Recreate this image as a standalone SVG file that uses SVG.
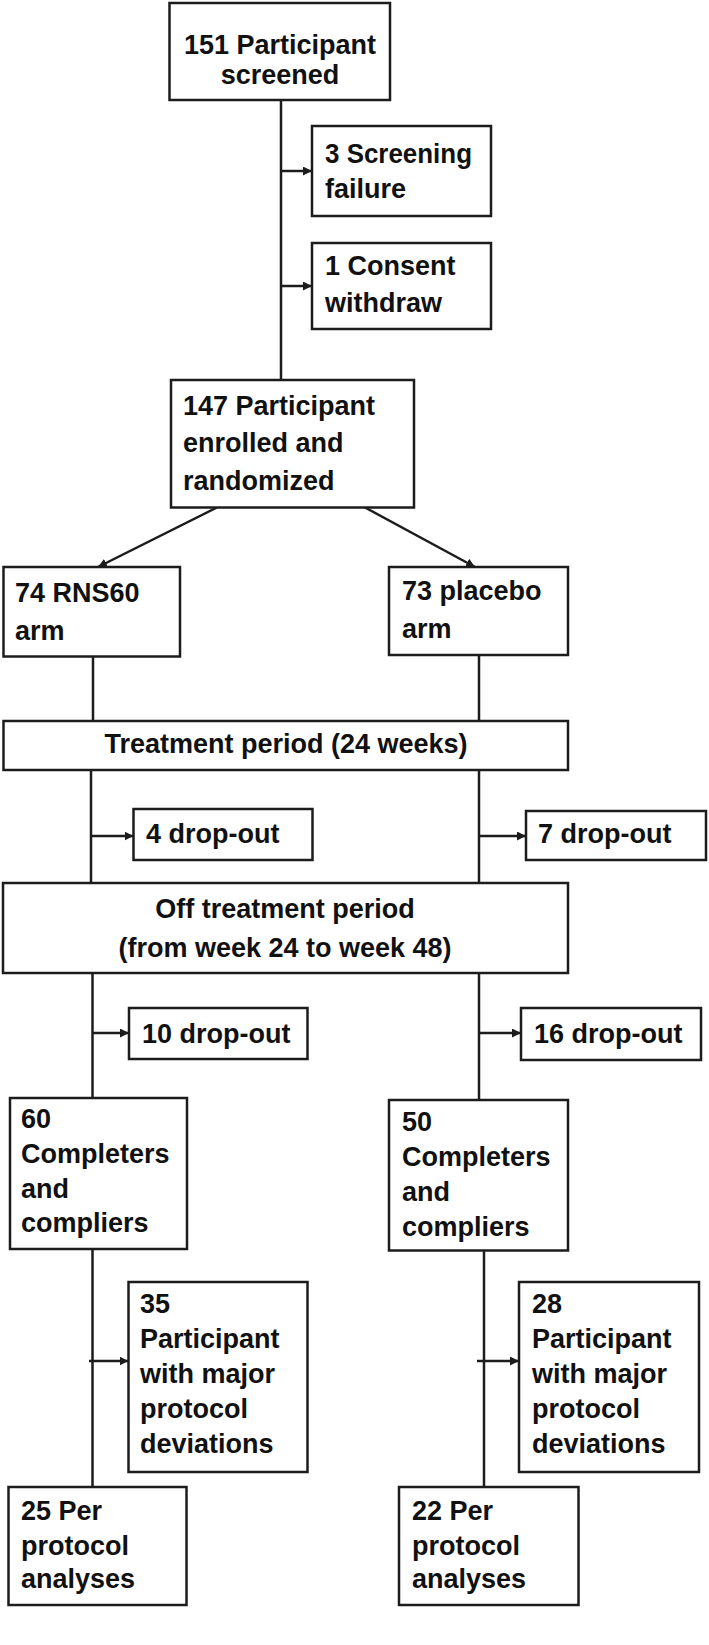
<svg xmlns="http://www.w3.org/2000/svg" width="709" height="1645" viewBox="0 0 709 1645">
  <style>
    .box { fill: #ffffff; stroke: #1c1c1c; stroke-width: 2.5; }
    .t { font-family: "Liberation Sans", Arial, sans-serif; font-weight: bold; font-size: 27px; fill: #111111; }
    .c { text-anchor: middle; }
    .ln { stroke: #1c1c1c; stroke-width: 2.5; fill: none; }
    .ar { stroke: #1c1c1c; stroke-width: 2.5; fill: none; marker-end: url(#ah); }
  </style>
  <defs>
    <marker id="ah" markerWidth="10" markerHeight="10" refX="9" refY="4.5" orient="auto" markerUnits="userSpaceOnUse">
      <path d="M0,0 L9,4.5 L0,9 z" fill="#1c1c1c"/>
    </marker>
  </defs>
  <rect x="0" y="0" width="709" height="1645" fill="#ffffff"/>

  <g id="connectors">
    <line class="ln" x1="281" y1="100" x2="281" y2="380"/>
    <line class="ar" x1="281" y1="171" x2="312" y2="171"/>
    <line class="ar" x1="281" y1="286" x2="312" y2="286"/>
    <line class="ar" x1="217" y1="507.5" x2="98" y2="567"/>
    <line class="ar" x1="365" y1="507.5" x2="475" y2="567"/>
    <line class="ln" x1="93" y1="656.5" x2="93" y2="721"/>
    <line class="ln" x1="479" y1="655" x2="479" y2="721"/>
    <line class="ln" x1="91" y1="770" x2="91" y2="883"/>
    <line class="ar" x1="91" y1="836" x2="133.5" y2="836"/>
    <line class="ln" x1="479" y1="770" x2="479" y2="883"/>
    <line class="ar" x1="479" y1="836" x2="526" y2="836"/>
    <line class="ln" x1="92.5" y1="973" x2="92.5" y2="1098"/>
    <line class="ar" x1="92.5" y1="1033" x2="129" y2="1033"/>
    <line class="ln" x1="479" y1="973" x2="479" y2="1100"/>
    <line class="ar" x1="479" y1="1033" x2="521" y2="1033"/>
    <line class="ln" x1="92.5" y1="1249" x2="92.5" y2="1487"/>
    <line class="ar" x1="89" y1="1361" x2="128.5" y2="1361"/>
    <line class="ln" x1="484" y1="1250.5" x2="484" y2="1487"/>
    <line class="ar" x1="477" y1="1361" x2="519" y2="1361"/>
  </g>

  <g id="n151">
    <rect class="box" x="169.5" y="3" width="220.5" height="97"/>
    <text class="t c" x="280" y="54">151 Participant</text>
    <text class="t c" x="280" y="84">screened</text>
  </g>
  <g id="nScreen">
    <rect class="box" x="312" y="126" width="179" height="90"/>
    <text class="t" x="325" y="163" textLength="147" lengthAdjust="spacingAndGlyphs">3 Screening</text>
    <text class="t" x="325" y="198">failure</text>
  </g>
  <g id="nConsent">
    <rect class="box" x="312" y="243" width="179" height="86"/>
    <text class="t" x="325" y="275">1 Consent</text>
    <text class="t" x="325" y="312">withdraw</text>
  </g>
  <g id="n147">
    <rect class="box" x="171" y="380" width="243" height="127.5"/>
    <text class="t" x="183" y="415">147 Participant</text>
    <text class="t" x="183" y="452">enrolled and</text>
    <text class="t" x="183" y="490">randomized</text>
  </g>
  <g id="nRNS60">
    <rect class="box" x="3.5" y="567" width="176.5" height="89.5"/>
    <text class="t" x="15" y="602">74 RNS60</text>
    <text class="t" x="15" y="640">arm</text>
  </g>
  <g id="nPlacebo">
    <rect class="box" x="389" y="567" width="179" height="88"/>
    <text class="t" x="402" y="600">73 placebo</text>
    <text class="t" x="402" y="638">arm</text>
  </g>
  <g id="nTreatment">
    <rect class="box" x="3.5" y="721" width="564.5" height="49"/>
    <text class="t c" x="286" y="753">Treatment period (24 weeks)</text>
  </g>
  <g id="nDrop4">
    <rect class="box" x="133.5" y="809" width="179" height="51"/>
    <text class="t" x="146" y="843">4 drop-out</text>
  </g>
  <g id="nDrop7">
    <rect class="box" x="526" y="811" width="180" height="49"/>
    <text class="t" x="538" y="843">7 drop-out</text>
  </g>
  <g id="nOff">
    <rect class="box" x="3" y="883" width="565" height="90"/>
    <text class="t c" x="285" y="918">Off treatment period</text>
    <text class="t c" x="285" y="957">(from week 24 to week 48)</text>
  </g>
  <g id="nDrop10">
    <rect class="box" x="129" y="1008" width="178.5" height="51"/>
    <text class="t" x="142" y="1043">10 drop-out</text>
  </g>
  <g id="nDrop16">
    <rect class="box" x="521" y="1008" width="180" height="52"/>
    <text class="t" x="534" y="1043">16 drop-out</text>
  </g>
  <g id="n60">
    <rect class="box" x="10" y="1098" width="177" height="151"/>
    <text class="t" x="21" y="1128">60</text>
    <text class="t" x="21" y="1163">Completers</text>
    <text class="t" x="21" y="1198">and</text>
    <text class="t" x="21" y="1232">compliers</text>
  </g>
  <g id="n50">
    <rect class="box" x="389" y="1100" width="179" height="150.5"/>
    <text class="t" x="402" y="1131">50</text>
    <text class="t" x="402" y="1166">Completers</text>
    <text class="t" x="402" y="1201">and</text>
    <text class="t" x="402" y="1236">compliers</text>
  </g>
  <g id="n35">
    <rect class="box" x="128.5" y="1282" width="179" height="190"/>
    <text class="t" x="140" y="1313">35</text>
    <text class="t" x="140" y="1348">Participant</text>
    <text class="t" x="140" y="1383">with major</text>
    <text class="t" x="140" y="1418">protocol</text>
    <text class="t" x="140" y="1453">deviations</text>
  </g>
  <g id="n28">
    <rect class="box" x="519" y="1282" width="180" height="190"/>
    <text class="t" x="532" y="1313">28</text>
    <text class="t" x="532" y="1348">Participant</text>
    <text class="t" x="532" y="1383">with major</text>
    <text class="t" x="532" y="1418">protocol</text>
    <text class="t" x="532" y="1453">deviations</text>
  </g>
  <g id="n25">
    <rect class="box" x="8.5" y="1487" width="178" height="118"/>
    <text class="t" x="21" y="1520">25 Per</text>
    <text class="t" x="21" y="1555">protocol</text>
    <text class="t" x="21" y="1588">analyses</text>
  </g>
  <g id="n22">
    <rect class="box" x="399" y="1487" width="179.5" height="118"/>
    <text class="t" x="412" y="1520">22 Per</text>
    <text class="t" x="412" y="1555">protocol</text>
    <text class="t" x="412" y="1588">analyses</text>
  </g>
</svg>
